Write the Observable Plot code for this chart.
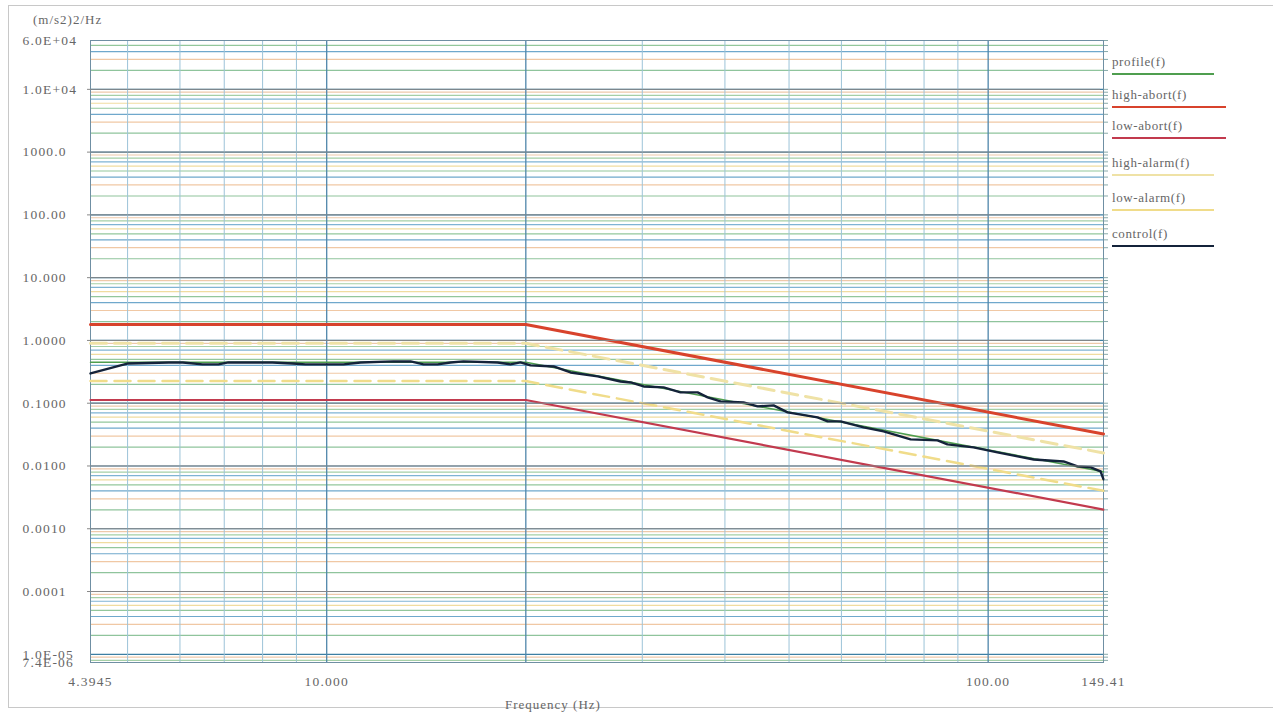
<!DOCTYPE html>
<html><head><meta charset="utf-8">
<script src="https://cdn.jsdelivr.net/npm/d3@7"></script>
<script src="https://cdn.jsdelivr.net/npm/@observablehq/plot@0.6"></script>
<style>
body{margin:0;background:#fff;}
#wrap{position:relative;width:1273px;height:715px;overflow:hidden;font-family:"Liberation Serif",serif;color:#666;}
#border{position:absolute;left:8px;top:5px;width:1270px;height:703px;border:1px solid #c8c8c8;box-sizing:border-box;}
.lab{position:absolute;font-size:13px;letter-spacing:1px;white-space:nowrap;}
.leg{position:absolute;left:1112px;font-size:13px;letter-spacing:0.6px;padding-bottom:3px;border-bottom:2px solid;}
</style></head>
<body>
<div id="wrap">
<div id="border"></div>
<div id="chart" style="position:absolute;left:0;top:0"></div>
<div class="lab" id="unit" style="left:33px;top:12px">(m/s2)2/Hz</div>
<div class="lab" id="xlab" style="left:505px;top:697px">Frequency (Hz)</div>
<div id="legend"></div>
</div>
<script>
// ---- data ----
const limitF = [4.3945, 20, 149.41];
const profileV = [0.45, 0.45, 0.00806];
const highAbortV = [1.8, 1.8, 0.0323];
const lowAbortV = [0.1125, 0.1125, 0.00202];
const highAlarmV = [0.9, 0.9, 0.0161];
const lowAlarmV = [0.225, 0.225, 0.00403];

const controlF = [4.3945,5.01,5.77,6.06,6.49,6.86,7.10,8.28,8.88,9.29,10.60,11.25,12.62,13.39,14.01,14.71,15.39,16.10,18.13,18.96,19.63,20.33,22.03,23.37,25.68,27.81,28.81,30.14,32.31,34.27,36.37,37.66,39.39,42.68,44.81,47.38,49.75,55.23,57.19,59.83,64.82,69.49,76.34,83.85,86.79,95.05,103.3,110.8,117.2,130.0,136.5,142.9,147.9,149.41];
const controlV = [0.298,0.430,0.446,0.446,0.415,0.415,0.446,0.446,0.430,0.415,0.415,0.446,0.463,0.463,0.415,0.415,0.446,0.463,0.446,0.415,0.446,0.400,0.385,0.309,0.267,0.222,0.214,0.185,0.179,0.149,0.149,0.124,0.107,0.103,0.0889,0.0923,0.0714,0.0594,0.0513,0.0513,0.0412,0.0356,0.0265,0.0256,0.0221,0.0198,0.0165,0.0142,0.0127,0.0118,0.00986,0.00950,0.00820,0.00612];

const yTickValues = [6e4, 1e4, 1000, 100, 10, 1, 0.1, 0.01, 0.001, 0.0001, 1e-5, 7.4e-6];
const yTickLabels = ["6.0E+04","1.0E+04","1000.0","100.00","10.000","1.0000","0.1000","0.0100","0.0010","0.0001","1.0E-05","7.4E-06"];
const xTickValues = [4.3945, 10, 100, 149.41];
const xTickLabels = ["4.3945","10.000","100.00","149.41"];

const seriesNames = ["profile(f)","high-abort(f)","low-abort(f)","high-alarm(f)","low-alarm(f)","control(f)"];
const decades = [-6,-5,-4,-3,-2,-1,0,1,2,3,4];
const multipliers = [1,2,3,4,5,6,7,8,9];
const xGridValues = [5,6,7,8,9,10,20,30,40,50,60,70,80,90,100];

// ---- styles ----
const seriesColors = ["#4f9e4f","#d8432c","#c23a4e","#efe2a6","#f0dc8a","#14233a"];
const gridColors = ["#3d7fa3","#8fc49c","#f0c8a4","#6fa8cc","#93c79b","#f0dca0","#7fb3d4","#a5cfa6","#eec9aa"];

const yDomain = [7.4e-6, 6e4];
const xDomain = [4.3945, 149.41];

const yGrid = [];
for (const e of decades) for (let i = 0; i < multipliers.length; i++) {
  const v = multipliers[i] * Math.pow(10, e);
  if (v >= yDomain[0] && v <= yDomain[1]) yGrid.push({v, c: gridColors[i]});
}
const xGrid = xGridValues.map(v => ({v, major: v === 10 || v === 100 || v === 20}));

const line = (vals) => limitF.map((f, i) => ({f, v: vals[i]}));
const control = controlF.map((f, i) => ({f, v: controlV[i]}));
const yTicks = yTickValues.map((v, i) => ({v, label: yTickLabels[i]}));
const xLab = new Map(xTickValues.map((v, i) => [v, xTickLabels[i]]));

const chart = Plot.plot({
  width: 1273, height: 715,
  marginLeft: 90, marginRight: 170, marginTop: 40, marginBottom: 53,
  style: {fontFamily: "'Liberation Serif', serif", fontSize: "13.5px", color: "#666", background: "transparent", letterSpacing: "1.2px"},
  x: {type: "log", domain: xDomain},
  y: {type: "log", domain: yDomain},
  marks: [
    Plot.ruleY(yGrid, {y: "v", stroke: "c", strokeWidth: 1.2}),
    Plot.ruleX(xGrid, {x: "v", stroke: d => d.major ? "#4f86ab" : "#9cc3d8", strokeWidth: d => d.major ? 1.3 : 1}),
    Plot.frame({stroke: "#6f8fa3"}),
    Plot.line(line(lowAlarmV), {x: "f", y: "v", stroke: seriesColors[4], strokeWidth: 2.5, strokeDasharray: "16,8"}),
    Plot.line(line(highAlarmV), {x: "f", y: "v", stroke: seriesColors[3], strokeWidth: 3, strokeDasharray: "16,8"}),
    Plot.line(line(profileV), {x: "f", y: "v", stroke: seriesColors[0], strokeWidth: 1.5}),
    Plot.line(line(highAbortV), {x: "f", y: "v", stroke: seriesColors[1], strokeWidth: 3}),
    Plot.line(line(lowAbortV), {x: "f", y: "v", stroke: seriesColors[2], strokeWidth: 2.2}),
    Plot.line(control, {x: "f", y: "v", stroke: seriesColors[5], strokeWidth: 2.4}),
    Plot.tickY(yTicks.slice(1, 10), {y: "v", frameAnchor: "left", dx: -3, stroke: "#888", inset: 0}),
    Plot.text(yTicks, {y: "v", text: "label", frameAnchor: "left", textAnchor: "start", dx: -68, fill: "#666"}),
    Plot.axisY({anchor: "right", ticks: yGrid.map(d => d.v), tickFormat: () => "", tickSize: 4, label: null, stroke: "#8aa"}),
    Plot.axisX({ticks: xTickValues, tickFormat: d => xLab.get(d), tickSize: 0, tickPadding: 14, label: null})
  ]
});
document.getElementById("chart").appendChild(chart);

const legendTops = [54, 87, 118, 155, 190, 226];
const legend = document.getElementById("legend");
seriesNames.forEach((name, i) => {
  const d = document.createElement("div");
  d.className = "leg";
  d.style.top = legendTops[i] + "px";
  d.style.borderBottomColor = seriesColors[i];
  d.style.width = (i === 1 || i === 2 ? 114 : 102) + "px";
  d.textContent = name;
  legend.appendChild(d);
});
</script>
</body></html>
